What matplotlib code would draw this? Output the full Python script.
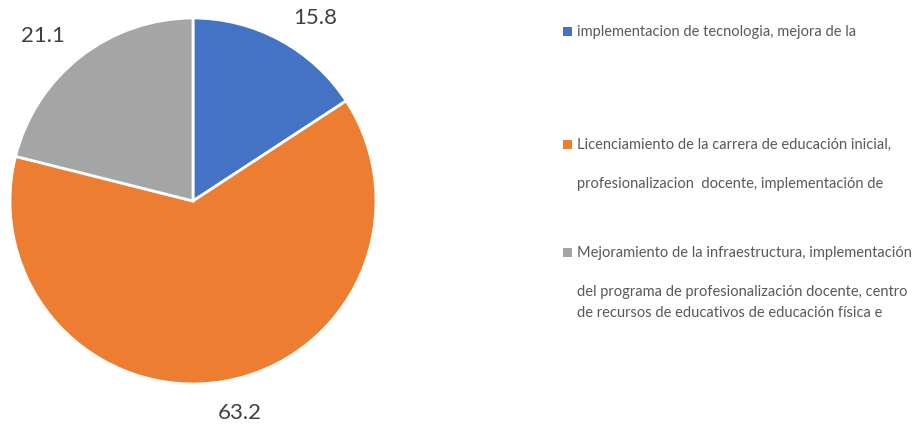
import numpy as np
import matplotlib.pyplot as plt
from matplotlib.patches import Rectangle

# Shares per project group (percent)
values = [15.8, 63.2, 21.1]
colors = ['#4472C4', '#ED7D31', '#A5A5A5']
legend_lines = [
    ['implementacion de tecnologia, mejora de la'],
    ['Licenciamiento de la carrera de educación inicial,',
     'profesionalizacion  docente, implementación de'],
    ['Mejoramiento de la infraestructura, implementación',
     'del programa de profesionalización docente, centro',
     'de recursos de educativos de educación física e'],
]
# label placement around the pie (angle in degrees, radius in pie units)
label_pos = [(56.5, 1.207), (-77.4, 1.18), (132.1, 1.222)]

W, H = 921, 427
fig = plt.figure(figsize=(W / 100, H / 100), dpi=100)
font = 'Lato'

r_px = 183
cx, cy = 193, 202
ax = fig.add_axes([(cx - r_px) / W, 1 - (cy + r_px) / H, 2 * r_px / W, 2 * r_px / H])
ax.pie(values, colors=colors, startangle=90, counterclock=False, radius=1.0,
       wedgeprops=dict(edgecolor='white', linewidth=2))
ax.set_xlim(-1, 1)
ax.set_ylim(-1, 1)
ax.set_aspect('auto')
ax.axis('off')

for v, (ang, dist) in zip(values, label_pos):
    t = np.deg2rad(ang)
    ax.text(dist * np.cos(t), dist * np.sin(t), f'{v}', ha='center', va='center',
            fontsize=16, color='#404040', family=font, clip_on=False)

# legend drawn as text blocks with colour squares
line_y = [[32], [145, 184], [253, 292, 313]]
for col, lines, ys in zip(colors, legend_lines, line_y):
    fig.patches.append(Rectangle((563 / W, 1 - (ys[0] + 5) / H), 9 / W, 9 / H,
                                 transform=fig.transFigure, facecolor=col, edgecolor='none'))
    for txt, y in zip(lines, ys):
        fig.text(577 / W, 1 - y / H, txt, ha='left', va='center', fontsize=10.5,
                 color='#595959', family=font)

fig.savefig('out.png', dpi=100)
